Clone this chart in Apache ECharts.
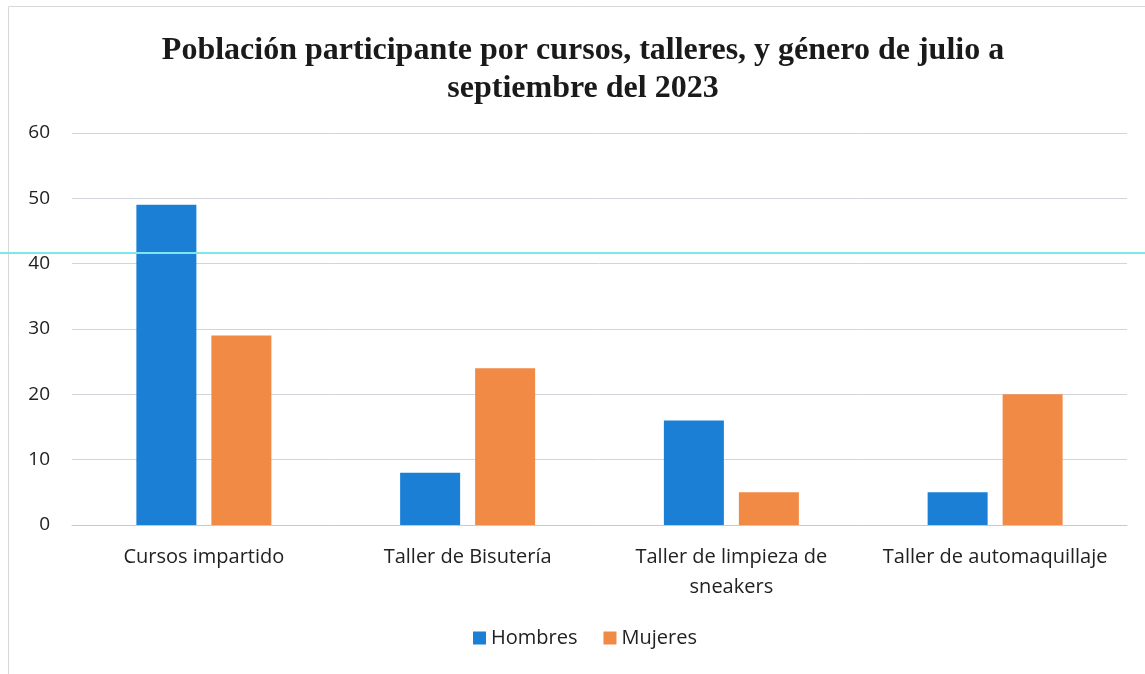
<!DOCTYPE html>
<html>
<head>
<meta charset="utf-8">
<script src="https://cdn.jsdelivr.net/npm/echarts@6/dist/echarts.min.js"></script>
<style>
  html, body { margin: 0; padding: 0; background: #fff; }
  #chart { width: 1145px; height: 674px; }
</style>
</head>
<body>
<div id="chart"></div>
<script>
// datos del gráfico
const categorias = ['Cursos impartido', 'Taller de Bisutería', 'Taller de limpieza de\nsneakers', 'Taller de automaquillaje'];
const hombres = [49, 8, 16, 5];
const mujeres = [29, 24, 5, 20];
const ticksY = [0, 10, 20, 30, 40, 50, 60];

const chart = echarts.init(document.getElementById('chart'));

const option = {
    backgroundColor: '#fff',
    animation: false,
    title: {
        text: 'Población participante por cursos, talleres, y género de julio a\nseptiembre del 2023',
        left: 578,
        textAlign: 'center',
        top: 27,
        textStyle: {
            fontFamily: 'Liberation Serif',
            fontWeight: 'bold',
            fontSize: 32,
            lineHeight: 38,
            color: '#1a1a1a'
        }
    },
    legend: {
        bottom: 21,
        left: 468,
        itemWidth: 13,
        itemHeight: 13,
        itemGap: 26,
        icon: 'rect',
        textStyle: { fontFamily: 'Open Sans', fontSize: 20, color: '#222' },
        data: ['Hombres', 'Mujeres']
    },
    grid: { left: 72, right: 18, top: 133, bottom: 149 },
    xAxis: {
        type: 'category',
        data: categorias,
        axisLine: { lineStyle: { color: '#c8c8d0', width: 1 } },
        axisTick: { show: false },
        axisLabel: {
            interval: 0,
            fontFamily: 'Open Sans',
            fontSize: 20,
            color: '#222',
            margin: 17,
            lineHeight: 30
        }
    },
    yAxis: {
        type: 'value',
        min: ticksY[0],
        max: ticksY[ticksY.length - 1],
        interval: 10,
        axisLine: { show: false },
        axisTick: { show: false },
        axisLabel: {
            fontFamily: 'Open Sans',
            fontSize: 19,
            color: '#222',
            margin: 22
        },
        splitLine: { lineStyle: { color: '#d4d4dc', width: 1 } }
    },
    series: [
        {
            name: 'Hombres',
            type: 'bar',
            data: hombres,
            barWidth: 60,
            barGap: '25%',
            itemStyle: { color: '#1b7fd6' }
        },
        {
            name: 'Mujeres',
            type: 'bar',
            data: mujeres,
            barWidth: 60,
            itemStyle: { color: '#f08a45' }
        }
    ],
    graphic: [
        {
            type: 'rect',
            shape: { x: 8.5, y: 6.5, width: 1160, height: 700 },
            style: { fill: 'none', stroke: '#d8d8d8', lineWidth: 1 },
            silent: true
        },
        {
            // línea cian del escaneo
            type: 'line',
            shape: { x1: 0, y1: 253, x2: 1145, y2: 253 },
            style: { stroke: '#7fe6ea', lineWidth: 2 },
            z: 100,
            silent: true
        }
    ]
};

chart.setOption(option);
</script>
</body>
</html>
